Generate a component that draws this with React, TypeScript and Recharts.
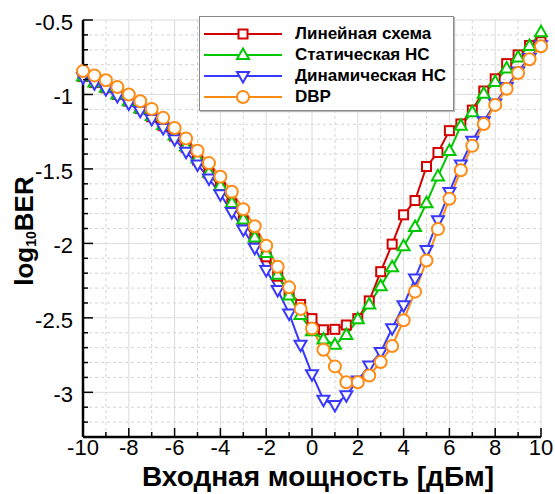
import React from 'react';
import { LineChart, Line, XAxis, YAxis, CartesianGrid } from 'recharts';

// input power, dBm
const power = [
  -10, -9.5, -9, -8.5, -8, -7.5, -7, -6.5, -6, -5.5, -5, -4.5, -4, -3.5, -3, -2.5, -2, -1.5, -1, -0.5,
  0, 0.5, 1, 1.5, 2, 2.5, 3, 3.5, 4, 4.5, 5, 5.5, 6, 6.5, 7, 7.5, 8, 8.5, 9, 9.5, 10,
];

// log10 BER values
const linearScheme = [
  -0.88, -0.92, -0.955, -1.0, -1.045, -1.095, -1.15, -1.21, -1.28, -1.355, -1.44, -1.53, -1.625, -1.735, -1.85,
  -1.97, -2.09, -2.22, -2.32, -2.41, -2.505, -2.58, -2.577, -2.548, -2.505, -2.386, -2.19, -2.005, -1.808,
  -1.712, -1.484, -1.39, -1.243, -1.198, -1.105, -0.977, -0.895, -0.793, -0.734, -0.671, -0.646,
];
const staticNN = [
  -0.88, -0.92, -0.955, -1.0, -1.045, -1.095, -1.145, -1.205, -1.275, -1.35, -1.43, -1.525, -1.615, -1.728,
  -1.84, -1.96, -2.065, -2.21, -2.35, -2.48, -2.59, -2.645, -2.68, -2.615, -2.51, -2.41, -2.287, -2.16, -2.02,
  -1.89, -1.73, -1.55, -1.38, -1.21, -1.12, -0.995, -0.917, -0.826, -0.752, -0.674, -0.583,
];
const dynamicNN = [
  -0.885, -0.925, -0.965, -1.01, -1.06, -1.11, -1.164, -1.225, -1.3, -1.385, -1.47, -1.565, -1.67, -1.79,
  -1.907, -2.03, -2.178, -2.313, -2.47, -2.68, -2.878, -3.05, -3.085, -3.02, -2.92, -2.82, -2.73, -2.57,
  -2.415, -2.235, -2.045, -1.845, -1.655, -1.47, -1.31, -1.18, -1.06, -0.95, -0.845, -0.755, -0.67,
];
const dbp = [
  -0.843, -0.872, -0.905, -0.95, -1.0, -1.045, -1.097, -1.157, -1.225, -1.295, -1.378, -1.461, -1.552, -1.653,
  -1.77, -1.885, -2.016, -2.157, -2.295, -2.44, -2.572, -2.714, -2.826, -2.932, -2.932, -2.887, -2.797,
  -2.689, -2.516, -2.324, -2.115, -1.904, -1.7, -1.509, -1.345, -1.198, -1.07, -0.962, -0.856, -0.764, -0.676,
];

const xMajor = [-10, -8, -6, -4, -2, 0, 2, 4, 6, 8, 10];
const xTicks = [-10, -9, -8, -7, -6, -5, -4, -3, -2, -1, 0, 1, 2, 3, 4, 5, 6, 7, 8, 9, 10];
const xMinor = [-9, -7, -5, -3, -1, 1, 3, 5, 7, 9];
const yMajor = [-3, -2.5, -2, -1.5, -1, -0.5];
const yTicks = [
  -3.2, -3.1, -3, -2.9, -2.8, -2.7, -2.6, -2.5, -2.4, -2.3, -2.2, -2.1, -2, -1.9, -1.8, -1.7, -1.6, -1.5,
  -1.4, -1.3, -1.2, -1.1, -1, -0.9, -0.8, -0.7, -0.6, -0.5,
];

const series = [
  { key: 'linear', name: 'Линейная схема', color: '#d40000', shape: 'square', values: linearScheme },
  { key: 'static', name: 'Статическая НС', color: '#00c800', shape: 'up', values: staticNN },
  { key: 'dynamic', name: 'Динамическая НС', color: '#3838ff', shape: 'down', values: dynamicNN },
  { key: 'dbp', name: 'DBP', color: '#ff8a14', shape: 'circle', values: dbp },
];

const rows = power.map((x, i) => {
  const row: any = { x };
  series.forEach((s) => (row[s.key] = s.values[i]));
  return row;
});

const FONT = '"Liberation Sans", Arial, sans-serif';

const Marker = ({ cx, cy, shape, color }: any) => {
  if (cx == null || cy == null) return null;
  const sw = 2;
  if (shape === 'square') {
    return <rect x={cx - 4.5} y={cy - 4.5} width={9} height={9} fill="#fff" stroke={color} strokeWidth={sw} />;
  }
  if (shape === 'up') {
    return (
      <polygon
        points={`${cx},${cy - 6.5} ${cx + 6},${cy + 4} ${cx - 6},${cy + 4}`}
        fill="#fff"
        stroke={color}
        strokeWidth={sw}
      />
    );
  }
  if (shape === 'down') {
    return (
      <polygon
        points={`${cx},${cy + 6.5} ${cx + 6},${cy - 4} ${cx - 6},${cy - 4}`}
        fill="#fff"
        stroke={color}
        strokeWidth={sw}
      />
    );
  }
  return <circle cx={cx} cy={cy} r={6} fill="#fff" stroke={color} strokeWidth={sw} />;
};

const BottomTick = ({ x, y, payload }: any) => {
  const major = xMajor.includes(payload.value);
  return (
    <g>
      <line x1={x} y1={y} x2={x} y2={y - (major ? 9 : 5)} stroke="#000" strokeWidth={1.5} />
      {major && (
        <text x={x} y={y + 18} textAnchor="middle" fontSize={22} fontFamily={FONT} fill="#000">
          {payload.value}
        </text>
      )}
    </g>
  );
};

const TopTick = ({ x, y, payload }: any) => {
  const major = xMajor.includes(payload.value);
  return <line x1={x} y1={y} x2={x} y2={y + (major ? 9 : 5)} stroke="#000" strokeWidth={1.5} />;
};

const LeftTick = ({ x, y, payload }: any) => {
  const major = yMajor.includes(payload.value);
  return (
    <g>
      <line x1={x} y1={y} x2={x + (major ? 10 : 5)} y2={y} stroke="#000" strokeWidth={1.5} />
      {major && (
        <text x={x - 10} y={y + 10} textAnchor="end" fontSize={22} fontFamily={FONT} fill="#000">
          {payload.value}
        </text>
      )}
    </g>
  );
};

const RightTick = ({ x, y, payload }: any) => {
  const major = yMajor.includes(payload.value);
  return <line x1={x} y1={y} x2={x - (major ? 10 : 5)} y2={y} stroke="#000" strokeWidth={1.5} />;
};

const XTitle = () => (
  <text x={318} y={486} textAnchor="middle" fontSize={28} fontWeight="bold" fontFamily={FONT} fill="#000">
    Входная мощность [дБм]
  </text>
);

const YTitle = () => (
  <text
    transform="translate(24,231) rotate(-90)"
    textAnchor="middle"
    dominantBaseline="central"
    fontSize={26}
    fontWeight="bold"
    fontFamily={FONT}
    fill="#000"
  >
    log
    <tspan fontSize={14} dy={7}>10</tspan>
    <tspan dy={-7}>BER</tspan>
  </text>
);

const LegendBox = () => (
  <div
    style={{
      position: 'absolute',
      left: 199,
      top: 16,
      width: 253,
      height: 93,
      background: '#fff',
      border: '1.5px solid #8a8a8a',
      boxShadow: '1px 1px 1px #bbb',
    }}
  >
    {series.map((s, i) => (
      <div key={s.key} style={{ position: 'absolute', left: 0, top: 7 + i * 21, height: 20, display: 'flex', alignItems: 'center' }}>
        <svg width={90} height={20}>
          <line x1={4} y1={10} x2={82} y2={10} stroke={s.color} strokeWidth={2} />
          <Marker cx={43} cy={10} shape={s.shape} color={s.color} />
        </svg>
        <span style={{ marginLeft: 5, fontFamily: FONT, fontWeight: 'bold', fontSize: 17, color: '#000', whiteSpace: 'nowrap' }}>
          {s.name}
        </span>
      </div>
    ))}
  </div>
);

export default function App() {
  return (
    <div style={{ position: 'absolute', left: 0, top: 0, width: 555, height: 494, background: '#fff' }}>
      <LineChart width={555} height={494} data={rows} margin={{ top: 20, right: 14, bottom: 0, left: 0 }}>
        <CartesianGrid
          stroke="#d4d4d4"
          strokeDasharray="3 3"
          verticalValues={xMinor}
          horizontalValues={yTicks.filter((v) => !yMajor.includes(v))}
        />
        <CartesianGrid stroke="#dcdcdc" verticalValues={xMajor} horizontalValues={yMajor} />
        {series.map((s) => (
          <Line
            key={s.key}
            dataKey={s.key}
            name={s.name}
            stroke={s.color}
            strokeWidth={2}
            isAnimationActive={false}
            dot={(p: any) => <Marker key={`${s.key}-${p.index}`} cx={p.cx} cy={p.cy} shape={s.shape} color={s.color} />}
          />
        ))}
        <XAxis
          dataKey="x"
          type="number"
          domain={[-10, 10]}
          ticks={xTicks}
          interval={0}
          height={57}
          tickSize={0}
          tickMargin={0}
          tickLine={false}
          tick={<BottomTick />}
          axisLine={{ stroke: '#000', strokeWidth: 2.5 }}
          label={{ content: XTitle }}
        />
        <XAxis
          xAxisId="top"
          orientation="top"
          dataKey="x"
          type="number"
          domain={[-10, 10]}
          ticks={xTicks}
          interval={0}
          height={0}
          tickSize={0}
          tickMargin={0}
          tickLine={false}
          tick={<TopTick />}
          axisLine={{ stroke: '#000', strokeWidth: 2.5 }}
        />
        <YAxis
          type="number"
          domain={[-3.3, -0.5]}
          ticks={yTicks}
          interval={0}
          width={83}
          tickSize={0}
          tickMargin={0}
          tickLine={false}
          tick={<LeftTick />}
          allowDataOverflow
          axisLine={{ stroke: '#000', strokeWidth: 2.5 }}
          label={{ content: YTitle }}
        />
        <YAxis
          yAxisId="right"
          orientation="right"
          type="number"
          domain={[-3.3, -0.5]}
          ticks={yTicks}
          interval={0}
          width={0}
          tickSize={0}
          tickMargin={0}
          tickLine={false}
          tick={<RightTick />}
          allowDataOverflow
          axisLine={{ stroke: '#000', strokeWidth: 2.5 }}
        />
      </LineChart>
      <LegendBox />
    </div>
  );
}
